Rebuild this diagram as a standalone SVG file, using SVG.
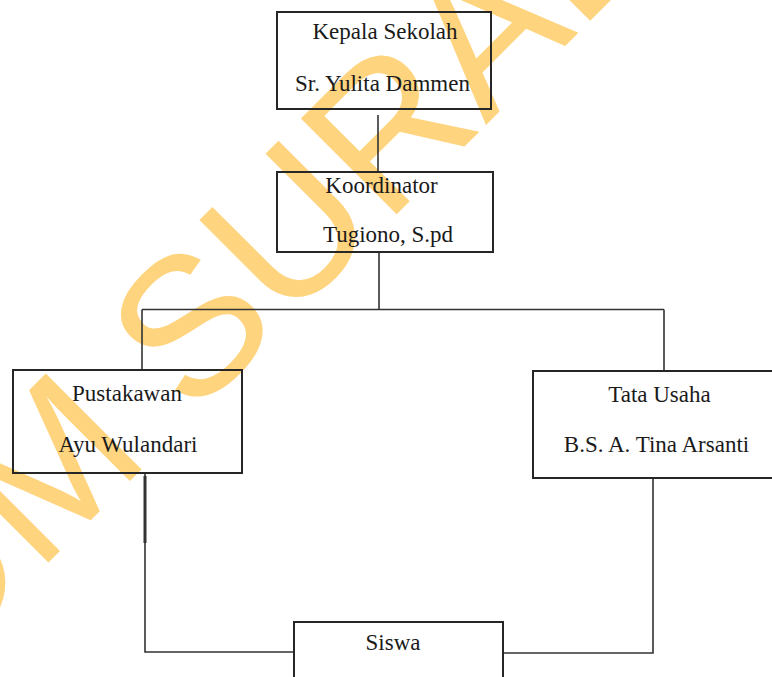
<svg xmlns="http://www.w3.org/2000/svg" width="772" height="677" viewBox="0 0 772 677">
<style>
.box{fill:none;stroke:#262626;stroke-width:2}
.lbl{font-family:"Liberation Serif","Times New Roman",serif;font-size:23px;fill:#1a1a1a;text-anchor:middle}
.wm{font-family:"Liberation Sans",Arial,sans-serif;font-size:197px;fill:#FFD47F}
#connectors path{fill:none;stroke:#333;stroke-width:1.6}
</style>
<rect width="772" height="677" fill="#fff"/>
<g id="watermark"><text class="wm" transform="translate(-381 992) rotate(-45)">STIKOM SURABAYA</text></g>
<g id="connectors">
<path d="M378 115V172"/>
<path d="M379 253V309.5M142 309.5H664M142 309.5V370M664 309.5V371"/>
<path d="M145 473V652H294"/>
<path d="M145 476V543" style="stroke-width:3"/>
<path d="M653 478V653H504"/>
</g>
<g id="kepala"><rect class="box" x="277" y="12" width="214" height="97"/>
<text class="lbl" x="385" y="39">Kepala Sekolah</text>
<text class="lbl" x="382.5" y="91">Sr. Yulita Dammen</text></g>
<g id="koordinator"><rect class="box" x="277" y="172" width="216" height="80"/>
<text class="lbl" x="381.5" y="193">Koordinator</text>
<text class="lbl" x="388" y="242">Tugiono, S.pd</text></g>
<g id="pustakawan"><rect class="box" x="13" y="370" width="229" height="103"/>
<text class="lbl" x="127" y="401">Pustakawan</text>
<text class="lbl" x="128" y="452">Ayu Wulandari</text></g>
<g id="tatausaha"><rect class="box" x="533" y="371" width="260" height="107"/>
<text class="lbl" x="659.5" y="402">Tata Usaha</text>
<text class="lbl" x="656.5" y="452">B.S. A. Tina Arsanti</text></g>
<g id="siswa"><rect class="box" x="294" y="622" width="209" height="80"/>
<text class="lbl" x="393" y="650">Siswa</text></g>
</svg>
